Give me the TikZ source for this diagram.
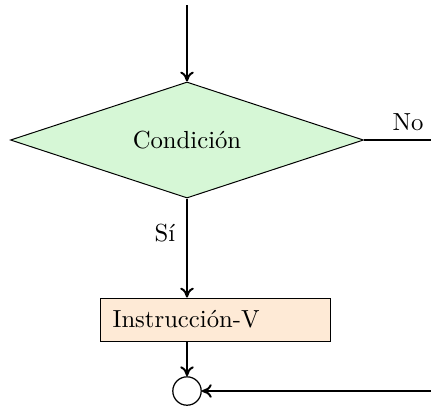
\documentclass[tikz,border=0pt]{standalone}
\usetikzlibrary{shapes.geometric,arrows.meta}
\definecolor{condgreen}{RGB}{214,247,214}
\definecolor{instrorange}{RGB}{254,234,214}
\begin{document}
\begin{tikzpicture}[x=0.405pt,y=-0.405pt,
  flow/.style={line width=0.8pt,-{To[length=4pt,width=5.5pt]}},
  plainline/.style={line width=0.8pt},
  decision/.style={diamond,aspect=3,draw,line width=0.4pt,fill=condgreen,inner sep=0pt,
    minimum width=143pt,minimum height=47pt},
  instrbox/.style={rectangle,draw,line width=0.4pt,fill=instrorange,inner ysep=0pt,
    inner xsep=4.9pt,text width=83.4pt,align=left,minimum height=17.4pt},
  joincircle/.style={circle,draw,line width=0.5pt,fill=white,minimum size=11.5pt,inner sep=0pt},
  lbl/.style={inner sep=0pt}]
\useasboundingbox (0,0) rectangle (431,406);
\coordinate (start) at (187,5);
\node[decision] (cond) at (187,140) {Condición};
\coordinate (noend) at (431,140);
\node[instrbox,anchor=west] (instr) at (100,319.5) {Instrucción-V};
\node[joincircle] (join) at (187,391) {};
\coordinate (backstart) at (431,391);
\draw[flow] (start) -- (cond.north);
\draw[plainline] (cond.east) -- (noend);
\draw[flow] (cond.south) -- (cond.south |- instr.north);
\draw[flow] (cond.south |- instr.south) -- (join.north);
\draw[flow] (backstart) -- (join.east);
\node[lbl] (nolbl) at (408,122) {No};
\node[lbl] (silbl) at (165,233) {Sí};
\end{tikzpicture}
\end{document}
